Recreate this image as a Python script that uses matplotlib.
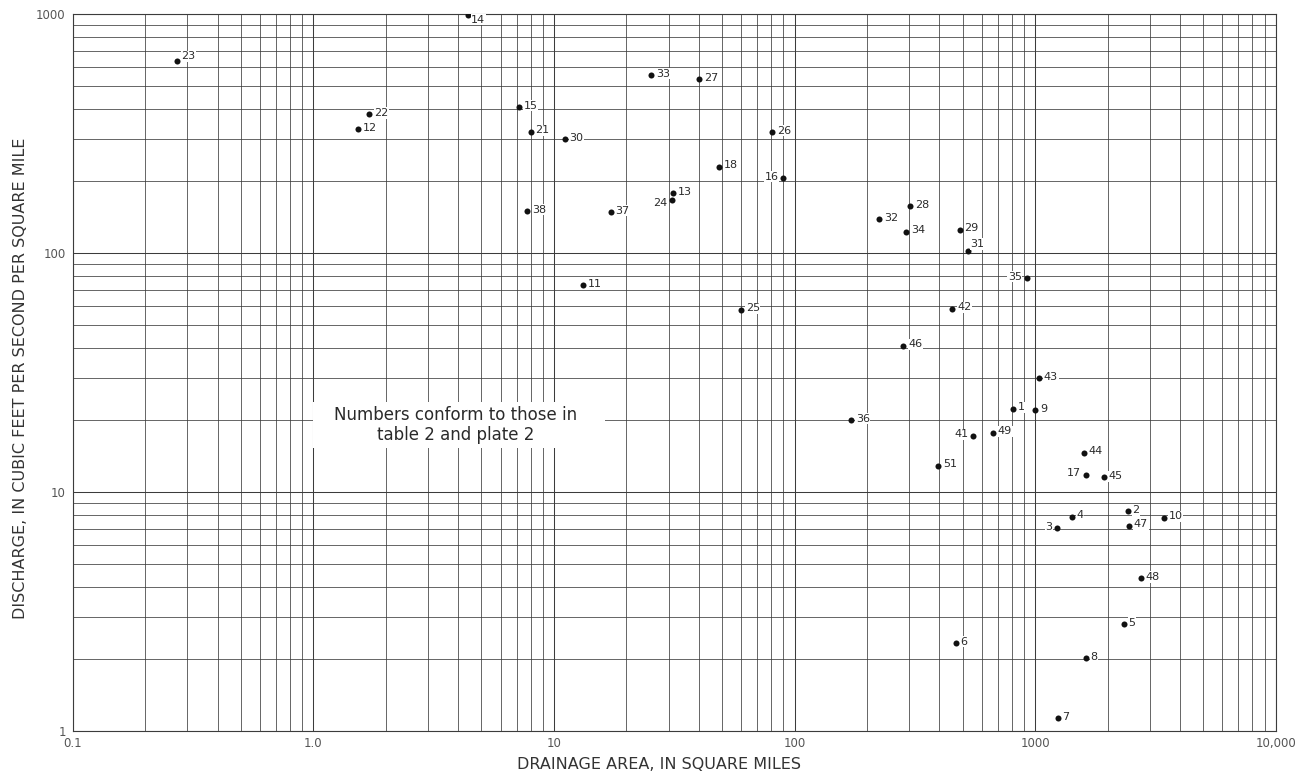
import matplotlib
matplotlib.use("Agg")
import matplotlib.pyplot as plt
from matplotlib.patches import Rectangle
from matplotlib.ticker import LogLocator, NullFormatter

# Station numbers, drainage area (sq mi) and discharge (cfs per sq mi)
station = [1, 2, 3, 4, 5, 6, 7, 8, 9, 10,
           11, 12, 13, 14, 15, 16, 17, 18,
           21, 22, 23, 24, 25, 26, 27, 28, 29, 30,
           31, 32, 33, 34, 35, 36, 37, 38,
           41, 42, 43, 44, 45, 46, 47, 48, 49, 51]
area = [812, 2425, 1237, 1419, 2335, 468, 1241, 1623, 1000, 3423,
        13.25, 1.54, 31.4, 4.41, 7.16, 89.8, 1627, 48.7,
        8.01, 1.71, 0.272, 30.9, 59.9, 80.9, 40.2, 302, 486, 11.1,
        525, 225, 25.3, 291, 923, 171.7, 17.2, 7.75,
        554, 453, 1038, 1597, 1933, 283, 2456, 2747, 668, 395]
discharge = [22.3, 8.3, 7.05, 7.88, 2.8, 2.33, 1.13, 2.02, 22.0, 7.8,
             73.3, 330, 177.7, 990, 408, 206, 11.8, 229.6,
             322, 380, 634, 166.7, 57.9, 320, 533, 157.3, 125.2, 299,
             102, 138.8, 555, 122.8, 78.4, 20.0, 148.4, 149.8,
             17.2, 58.5, 29.9, 14.6, 11.5, 40.9, 7.23, 4.35, 17.7, 12.9]

x_ticks = [0.1, 1, 10, 100, 1000, 10000]
x_ticklabels = ["0.1", "1.0", "10", "100", "1000", "10,000"]
y_ticks = [1, 10, 100, 1000]
y_ticklabels = ["1", "10", "100", "1000"]

# label placement: most numbers sit to the right of the dot
left_labels = {3, 16, 17, 24, 35, 41}
special_offsets = {23: (3.0, 3.5), 31: (2.0, 5.0), 14: (2.0, -3.5), 24: (-3.5, -2.5)}

grid_col = "#3c3c3c"
text_col = "#2a2a2a"

fig = plt.figure(figsize=(13.02, 7.74), dpi=100)
ax = fig.add_axes([72.7 / 1302, 43 / 774, 1203 / 1302, 717 / 774])

ax.set_xscale("log")
ax.set_yscale("log")
ax.set_xlim(0.1, 10000)
ax.set_ylim(1, 1000)

ax.set_xticks(x_ticks)
ax.set_xticklabels(x_ticklabels)
ax.set_yticks(y_ticks)
ax.set_yticklabels(y_ticklabels)
ax.xaxis.set_minor_locator(LogLocator(base=10, subs=range(2, 10), numticks=100))
ax.yaxis.set_minor_locator(LogLocator(base=10, subs=range(2, 10), numticks=100))
ax.xaxis.set_minor_formatter(NullFormatter())
ax.yaxis.set_minor_formatter(NullFormatter())
ax.tick_params(which="both", length=0, labelsize=8.5, labelcolor="#555555")
ax.tick_params(axis="x", pad=4)
ax.tick_params(axis="y", pad=5)

ax.grid(which="major", color=grid_col, linewidth=0.75)
ax.grid(which="minor", color=grid_col, linewidth=0.55)
for sp in ax.spines.values():
    sp.set_color(grid_col)
    sp.set_linewidth(0.8)

# white patch behind the note
ax.add_patch(Rectangle((0.2, 0.395), 0.2425, 0.064, transform=ax.transAxes,
                       facecolor="white", edgecolor="none", zorder=2))
ax.text(0.318, 0.4265, "Numbers conform to those in\ntable 2 and plate 2",
        transform=ax.transAxes, ha="center", va="center", fontsize=12,
        color=text_col, linespacing=1.15, zorder=3)

ax.scatter(area, discharge, s=19, color="#111111", zorder=4, linewidths=0)

for n, xv, yv in zip(station, area, discharge):
    if n in special_offsets:
        off = special_offsets[n]
    elif n in left_labels:
        off = (-3.5, 1.0)
    else:
        off = (3.5, 1.0)
    ha = "right" if off[0] < 0 else "left"
    ax.annotate(str(n), (xv, yv), xytext=off, textcoords="offset points",
                ha=ha, va="center", fontsize=8, color=text_col, zorder=5,
                bbox=dict(facecolor="white", edgecolor="none", pad=0.4))

ax.set_xlabel("DRAINAGE AREA, IN SQUARE MILES", fontsize=11.5, color="#333333")
ax.set_ylabel("DISCHARGE, IN CUBIC FEET PER SECOND PER SQUARE MILE",
              fontsize=11.5, color="#333333")
ax.xaxis.set_label_coords(0.4874, -0.0474)
ax.xaxis.label.set_va("center")
ax.yaxis.set_label_coords(-0.0438, 0.492)
ax.yaxis.label.set_va("center")

fig.savefig("out.png", dpi=100, facecolor="white")
